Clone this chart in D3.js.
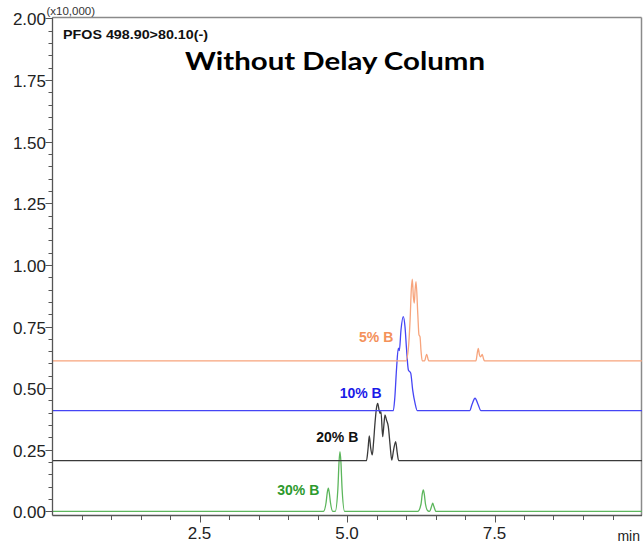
<!DOCTYPE html>
<html><head><meta charset="utf-8">
<script src="https://cdn.jsdelivr.net/npm/d3@7"></script>
<style>body{margin:0;background:#fff}svg{display:block}</style>
</head><body><svg id="c" width="643" height="545"></svg>
<script>
// ---- data (intensity in x10,000 counts, time in min) ----
const seriesNames = ["30% B", "20% B", "10% B", "5% B"];
const xTickLabels = [2.5, 5.0, 7.5];
const yTickLabels = [0, 0.25, 0.5, 0.75, 1.0, 1.25, 1.5, 1.75, 2.0];

const t30 = [0, 4.60, 4.645, 4.665, 4.683, 4.70, 4.72, 4.76, 4.80, 4.845, 4.865, 4.881, 4.897, 4.917, 4.96, 6.20, 6.255, 6.275, 6.293, 6.31, 6.33, 6.37, 6.40, 6.435, 6.453, 6.47, 6.51, 10];
const v30 = [0, 0, 0.035, 0.075, 0.094, 0.075, 0.035, 0, 0, 0.09, 0.20, 0.242, 0.20, 0.09, 0, 0, 0.03, 0.07, 0.087, 0.07, 0.03, 0.002, 0, 0.022, 0.033, 0.022, 0, 0];

const t20 = [0, 5.33, 5.355, 5.378, 5.40, 5.429, 5.45, 5.475, 5.50, 5.52, 5.545, 5.559, 5.576, 5.605, 5.625, 5.644, 5.67, 5.70, 5.73, 5.758, 5.79, 5.825, 5.85, 5.875, 10];
const v20 = [0.206, 0.206, 0.25, 0.306, 0.26, 0.229, 0.28, 0.36, 0.42, 0.438, 0.41, 0.398, 0.405, 0.303, 0.35, 0.391, 0.37, 0.344, 0.27, 0.208, 0.25, 0.283, 0.24, 0.206, 0.206];

const t10 = [0, 5.785, 5.81, 5.84, 5.87, 5.887, 5.915, 5.954, 5.983, 6.01, 6.04, 6.08, 6.113, 6.153, 6.19, 7.08, 7.12, 7.17, 7.22, 7.27, 10];
const v10 = [0.409, 0.409, 0.46, 0.58, 0.662, 0.652, 0.736, 0.79, 0.749, 0.655, 0.574, 0.561, 0.493, 0.439, 0.409, 0.409, 0.435, 0.459, 0.435, 0.409, 0.409];

const t5 = [0, 6.00, 6.04, 6.07, 6.09, 6.107, 6.125, 6.14, 6.155, 6.17, 6.20, 6.22, 6.237, 6.255, 6.275, 6.315, 6.35, 6.385, 6.42, 7.185, 7.21, 7.225, 7.245, 7.26, 7.275, 7.293, 7.31, 7.33, 10];
const v5 = [0.611, 0.611, 0.66, 0.78, 0.90, 0.942, 0.87, 0.845, 0.90, 0.932, 0.80, 0.716, 0.709, 0.65, 0.611, 0.611, 0.637, 0.611, 0.611, 0.611, 0.645, 0.661, 0.635, 0.627, 0.63, 0.637, 0.622, 0.611, 0.611];

// ---- layout ----
const svg = d3.select("#c");
const x = d3.scaleLinear().domain([0, 10]).range([52, 642]);
const y = d3.scaleLinear().domain([0, 2]).range([511.4, 18.4]);
const axisY = 515.5, topY = 17.5, leftX = 52.5, rightX = 641.5;

const styles = {
  "30% B": {line: "#5cb65c", label: "#2e9a2e", lx: 319.3, ly: 495},
  "20% B": {line: "#3a3a3a", label: "#111", lx: 358.3, ly: 441.5},
  "10% B": {line: "#4545f5", label: "#1a1ae8", lx: 381.7, ly: 397.5},
  "5% B":  {line: "#f7a47c", label: "#f4915a", lx: 393.3, ly: 341.5}
};
const dataMap = {"30% B": [t30, v30], "20% B": [t20, v20], "10% B": [t10, v10], "5% B": [t5, v5]};

// frame
svg.append("line").attr("x1", leftX).attr("x2", rightX).attr("y1", topY).attr("y2", topY)
  .attr("stroke", "#8a8a8a").attr("stroke-width", 1.5);
svg.append("line").attr("x1", rightX).attr("x2", rightX).attr("y1", topY).attr("y2", axisY)
  .attr("stroke", "#8a8a8a").attr("stroke-width", 1.5);

// series
const line = d3.line().x(d => x(d[0])).y(d => y(d[1])).curve(d3.curveMonotoneX);
seriesNames.forEach(name => {
  const [ts, vs] = dataMap[name];
  const pts = ts.map((t, i) => [t, vs[i]]);
  svg.append("path").datum(pts).attr("d", line).attr("fill", "none")
    .attr("stroke", styles[name].line).attr("stroke-width", 1.3).attr("stroke-linejoin", "round");
});
seriesNames.forEach(name => {
  svg.append("text").attr("x", styles[name].lx).attr("y", styles[name].ly)
    .attr("text-anchor", "end").attr("font-family", "Liberation Sans, Arial, sans-serif")
    .attr("font-weight", "bold").attr("font-size", 14).attr("fill", styles[name].label).text(name);
});

// axes lines
svg.append("line").attr("x1", leftX).attr("x2", leftX).attr("y1", topY).attr("y2", axisY)
  .attr("stroke", "#555").attr("stroke-width", 1.3);
svg.append("line").attr("x1", leftX).attr("x2", rightX + 0.5).attr("y1", axisY).attr("y2", axisY)
  .attr("stroke", "#555").attr("stroke-width", 1.3);

// y ticks
const yMinor = d3.range(0, 2.0001, 0.05).map(v => Math.round(v * 100) / 100);
svg.append("g").selectAll("line").data(yMinor).join("line")
  .attr("x1", d => yTickLabels.includes(d) ? leftX - 7 : leftX - 4).attr("x2", leftX)
  .attr("y1", d => Math.round(y(d)) + 0.5).attr("y2", d => Math.round(y(d)) + 0.5)
  .attr("stroke", "#555").attr("stroke-width", 1);
svg.append("g").selectAll("text").data(yTickLabels).join("text")
  .attr("x", 46).attr("y", d => y(d) + 7)
  .attr("text-anchor", "end").attr("font-family", "Liberation Sans, Arial, sans-serif")
  .attr("font-size", 17).attr("fill", "#222").text(d => d.toFixed(2));
svg.append("text").attr("x", 46.5).attr("y", 15).attr("font-family", "Liberation Sans, Arial, sans-serif")
  .attr("font-size", 11.5).attr("fill", "#333").text("(x10,000)");

// x ticks
const xMinor = d3.range(0.5, 10, 0.5).map(v => Math.round(v * 10) / 10);
svg.append("g").selectAll("line").data(xMinor).join("line")
  .attr("x1", d => Math.round(x(d)) + 0.5).attr("x2", d => Math.round(x(d)) + 0.5)
  .attr("y1", axisY).attr("y2", d => xTickLabels.includes(d) ? axisY + 7 : axisY + 4.5)
  .attr("stroke", "#555").attr("stroke-width", 1);
svg.append("g").selectAll("text").data(xTickLabels).join("text")
  .attr("x", d => x(d)).attr("y", 539)
  .attr("text-anchor", "middle").attr("font-family", "Liberation Sans, Arial, sans-serif")
  .attr("font-size", 17).attr("fill", "#222").text(d => d.toFixed(1));
svg.append("text").attr("x", 640).attr("y", 541).attr("text-anchor", "end")
  .attr("font-family", "Liberation Sans, Arial, sans-serif")
  .attr("font-size", 14).attr("fill", "#222").text("min");

// texts
svg.append("text").attr("x", 63).attr("y", 39).attr("font-family", "Liberation Sans, Arial, sans-serif")
  .attr("font-weight", "bold").attr("font-size", 13).attr("fill", "#111")
  .attr("textLength", 145).attr("lengthAdjust", "spacingAndGlyphs").text("PFOS 498.90>80.10(-)");
svg.append("text").attr("x", 335).attr("y", 70).attr("text-anchor", "middle")
  .attr("font-family", "Lato, 'Open Sans', sans-serif").attr("font-weight", "bold")
  .attr("font-size", 25).attr("fill", "#000")
  .attr("textLength", 300).attr("lengthAdjust", "spacingAndGlyphs").text("Without Delay Column");
</script></body></html>
